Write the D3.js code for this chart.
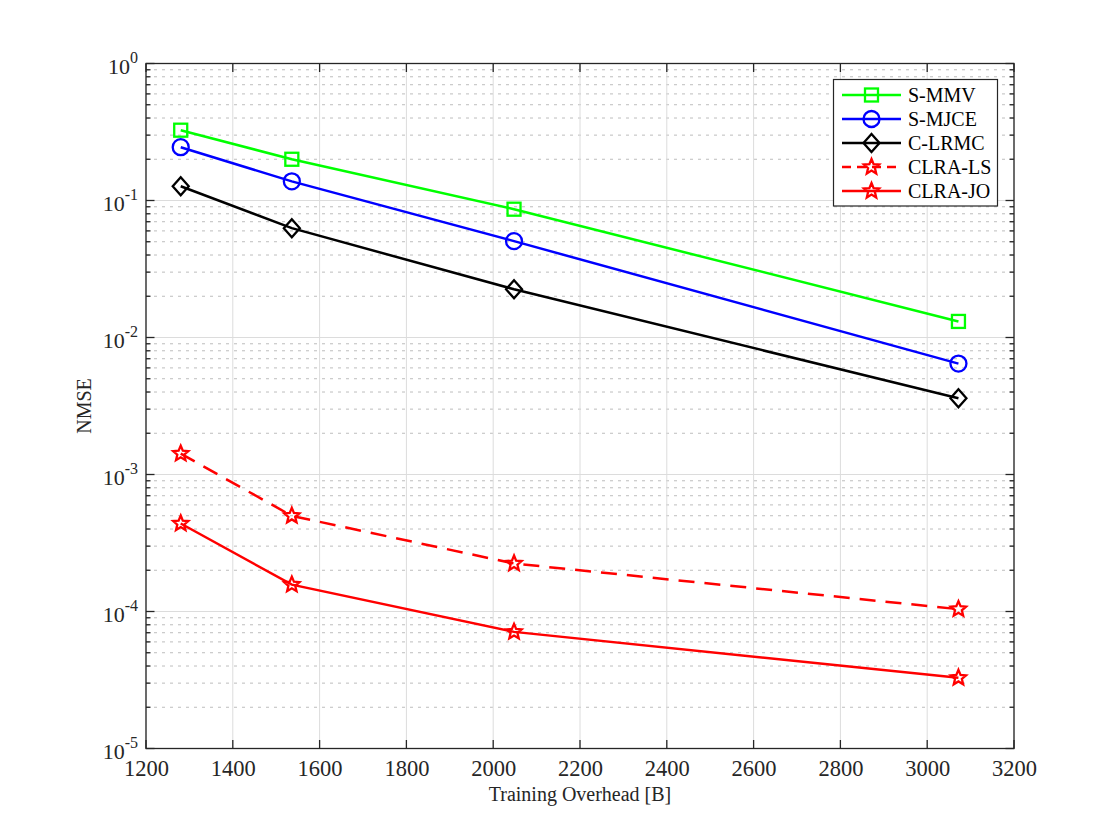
<!DOCTYPE html>
<html>
<head>
<meta charset="utf-8">
<script src="https://cdn.jsdelivr.net/npm/d3@7"></script>
<style>
  body { margin: 0; background: #fff; }
  text { font-family: "Liberation Serif", "Times New Roman", serif; }
</style>
</head>
<body>
<svg id="chart" width="1120" height="840"></svg>
<script>
// ---- data ----
const overhead = [1280, 1536, 2048, 3072];
const seriesNames = ["S-MMV", "S-MJCE", "C-LRMC", "CLRA-LS", "CLRA-JO"];
const sMMV   = [0.326, 0.200, 0.0864, 0.0131];
const sMJCE  = [0.245, 0.138, 0.0505, 0.00645];
const cLRMC  = [0.127, 0.0628, 0.0225, 0.0036];
const clraLS = [0.00142, 0.000499, 0.000224, 0.000104];
const clraJO = [0.000439, 0.000157, 0.0000710, 0.0000328];
const xTicks = [1200, 1400, 1600, 1800, 2000, 2200, 2400, 2600, 2800, 3000, 3200];
const yExps = [0, -1, -2, -3, -4, -5];

const series = [
  {name: seriesNames[0], values: sMMV,   color: "#00ff00", marker: "square",  dash: null},
  {name: seriesNames[1], values: sMJCE,  color: "#0000ff", marker: "circle",  dash: null},
  {name: seriesNames[2], values: cLRMC,  color: "#000000", marker: "diamond", dash: null},
  {name: seriesNames[3], values: clraLS, color: "#ff0000", marker: "star",    dash: "16,10"},
  {name: seriesNames[4], values: clraJO, color: "#ff0000", marker: "star",    dash: null}
];

// ---- layout ----
const L = 146, R = 1014, T = 63.5, B = 748.5;
const svg = d3.select("#chart");
const x = d3.scaleLinear().domain([1200, 3200]).range([L, R]);
const y = d3.scaleLog().domain([1e-5, 1]).range([B, T]);

// minor grid (y)
const minorVals = [];
for (let e = -5; e < 0; e++) for (let m = 2; m <= 9; m++) minorVals.push(m * Math.pow(10, e));

const grid = svg.append("g");
grid.selectAll(".ymin").data(minorVals).enter().append("line")
  .attr("x1", L).attr("x2", R).attr("y1", d => y(d)).attr("y2", d => y(d))
  .attr("stroke", "#bdbdbd").attr("stroke-width", 1).attr("stroke-dasharray", "3,5");
grid.selectAll(".xmaj").data(xTicks).enter().append("line")
  .attr("x1", d => x(d)).attr("x2", d => x(d)).attr("y1", T).attr("y2", B)
  .attr("stroke", "#dcdcdc").attr("stroke-width", 1);
grid.selectAll(".ymaj").data(yExps.map(e => Math.pow(10, e))).enter().append("line")
  .attr("x1", L).attr("x2", R).attr("y1", d => y(d)).attr("y2", d => y(d))
  .attr("stroke", "#dcdcdc").attr("stroke-width", 1);

// axes (ticks inside)
const axisG = svg.append("g").attr("stroke", "#262626").attr("stroke-width", 1.3);
const majorY = yExps.map(e => Math.pow(10, e));
[L, R].forEach((x0, i) => {
  const dir = i === 0 ? 1 : -1;
  axisG.selectAll(null).data(majorY).enter().append("line")
    .attr("x1", x0).attr("x2", x0 + dir * 8.5).attr("y1", d => y(d)).attr("y2", d => y(d));
  axisG.selectAll(null).data(minorVals).enter().append("line")
    .attr("x1", x0).attr("x2", x0 + dir * 4.5).attr("y1", d => y(d)).attr("y2", d => y(d));
});
[B, T].forEach((y0, i) => {
  const dir = i === 0 ? -1 : 1;
  axisG.selectAll(null).data(xTicks).enter().append("line")
    .attr("x1", d => x(d)).attr("x2", d => x(d)).attr("y1", y0).attr("y2", y0 + dir * 8.5);
});
axisG.append("rect").attr("x", L).attr("y", T).attr("width", R - L).attr("height", B - T)
  .attr("fill", "none");

// x tick labels via d3 axis
const xAxis = d3.axisBottom(x).tickValues(xTicks).tickSize(0).tickPadding(0).tickFormat(d3.format("d"));
const xg = svg.append("g").attr("transform", `translate(0,${B})`).call(xAxis);
xg.select(".domain").remove();
xg.selectAll("text").attr("font-size", 22.5).attr("fill", "#262626")
  .attr("font-family", "Liberation Serif").attr("dy", null).attr("y", 27);

// y tick labels (10^e)
const yl = svg.append("g");
yExps.forEach(e => {
  const t = yl.append("text").attr("x", 138).attr("y", y(Math.pow(10, e)) + 10)
    .attr("text-anchor", "end").attr("fill", "#262626").attr("font-size", 22);
  t.append("tspan").text("10");
  t.append("tspan").attr("dy", -11).attr("font-size", 16).text(String(e));
});

// axis labels
svg.append("text").attr("x", (L + R) / 2).attr("y", 801).attr("text-anchor", "middle")
  .attr("font-size", 20).attr("fill", "#262626").text("Training Overhead [B]");
svg.append("text").attr("transform", `translate(91,${(T + B) / 2}) rotate(-90)`)
  .attr("text-anchor", "middle").attr("font-size", 20).attr("fill", "#262626").text("NMSE");

// markers
function starPath(r) {
  const pts = [];
  for (let i = 0; i < 10; i++) {
    const a = -Math.PI / 2 + i * Math.PI / 5;
    const rr = i % 2 === 0 ? r : r * 0.45;
    pts.push([rr * Math.cos(a), rr * Math.sin(a)]);
  }
  return "M" + pts.map(p => p.join(",")).join("L") + "Z";
}
function drawMarker(g, type, cx, cy, color) {
  const m = g.append("g").attr("transform", `translate(${cx},${cy})`)
    .attr("fill", "none").attr("stroke", color).attr("stroke-width", 2.3);
  if (type === "square") m.append("rect").attr("x", -6.5).attr("y", -6.5).attr("width", 13).attr("height", 13);
  else if (type === "circle") m.append("circle").attr("r", 8);
  else if (type === "diamond") m.append("path").attr("d", "M0,-9L8,0L0,9L-8,0Z");
  else if (type === "star") m.append("path").attr("d", starPath(8));
}

const line = d3.line().x(d => x(d[0])).y(d => y(d[1]));
const plot = svg.append("g");
series.forEach(s => {
  const pts = overhead.map((v, i) => [v, s.values[i]]);
  plot.append("path").datum(pts).attr("d", line).attr("fill", "none")
    .attr("stroke", s.color).attr("stroke-width", 2.5)
    .attr("stroke-dasharray", s.dash);
  pts.forEach(p => drawMarker(plot, s.marker, x(p[0]), y(p[1]), s.color));
});

// legend
const lg = svg.append("g");
lg.append("rect").attr("x", 833.5).attr("y", 79.5).attr("width", 164).attr("height", 126.5)
  .attr("fill", "#fff").attr("stroke", "#262626").attr("stroke-width", 1.2);
series.forEach((s, i) => {
  const yy = 95 + i * 24;
  lg.append("line").attr("x1", 842).attr("x2", 901).attr("y1", yy).attr("y2", yy)
    .attr("stroke", s.color).attr("stroke-width", 2.5).attr("stroke-dasharray", s.dash ? "9,6" : null);
  drawMarker(lg, s.marker, 871.5, yy, s.color);
  lg.append("text").attr("x", 908).attr("y", yy + 7).attr("font-size", 20)
    .attr("fill", "#000").text(s.name);
});
</script>
</body>
</html>
